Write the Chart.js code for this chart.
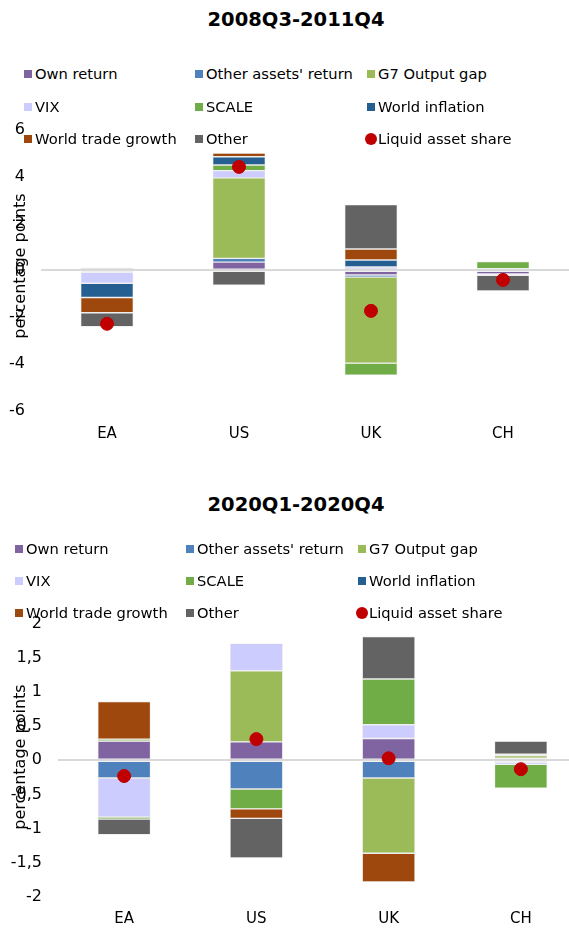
<!DOCTYPE html>
<html>
<head>
<meta charset="utf-8">
<script src="https://cdn.jsdelivr.net/npm/chart.js@4.4.0/dist/chart.umd.min.js"></script>
<style>
  body { margin: 0; width: 569px; height: 929px; overflow: hidden; position: relative; background: #fff;
         font-family: "DejaVu Sans", Verdana, sans-serif; color: #000; }
  canvas { position: absolute; left: 0; }
  .title { position: absolute; left: 296px; transform: translateX(-50%); font-weight: bold; font-size: 19.5px; white-space: nowrap; }
  .leg { position: absolute; font-size: 14.7px; line-height: 18px; white-space: nowrap; }
  .mark { position: absolute; width: 8px; height: 8px; }
  .dot { position: absolute; width: 12px; height: 12px; border-radius: 50%; background: #C00000; }
  .ytitle { position: absolute; font-size: 16px; line-height: 18px; white-space: nowrap; transform: translate(-50%, -50%) rotate(-90deg); }
</style>
</head>
<body>
<div class="title" style="top:8px">2008Q3-2011Q4</div>
<div class="title" style="top:493px">2020Q1-2020Q4</div>
<canvas id="chartA" width="569" height="353" style="top:104px"></canvas>
<canvas id="chartB" width="590" height="343" style="top:598px"></canvas>
<div class="ytitle" style="left:20px; top:266px">percentage points</div>
<div class="ytitle" style="left:20px; top:757px">percentage points</div>
<div id="legends"></div>
<script>
// Datos
const categories = ['EA', 'US', 'UK', 'CH'];
const seriesNames = ['Own return', "Other assets' return", 'G7 Output gap', 'VIX', 'SCALE', 'World inflation', 'World trade growth', 'Other'];
const seriesColors = ['#8064A2', '#4F81BD', '#9BBB59', '#CCCCFF', '#70AD47', '#255E91', '#9E480E', '#636363'];
const dotLabel = 'Liquid asset share';

// 2008Q3-2011Q4
const ownReturnA   = [0, 0.35, -0.2, -0.16];
const otherAssetsA = [-0.08, 0.16, -0.09, -0.02];
const outputGapA   = [0.11, 3.43, -3.67, 0.07];
const vixA         = [-0.47, 0.31, 0.14, -0.03];
const scaleA       = [0, 0.24, -0.51, 0.3];
const inflationA   = [-0.61, 0.35, 0.3, 0];
const tradeA       = [-0.65, 0.16, 0.47, 0];
const otherA       = [-0.6, -0.64, 1.89, -0.67];
const liquidA      = [-2.28, 4.41, -1.73, -0.41];
const yTicksA      = [-6, -4, -2, 0, 2, 4, 6];

// 2020Q1-2020Q4
const ownReturnB   = [0.28, 0.27, 0.32, 0.03];
const otherAssetsB = [-0.26, -0.42, -0.26, -0.03];
const outputGapB   = [0.03, 1.04, -1.1, 0.04];
const vixB         = [-0.57, 0.4, 0.2, -0.03];
const scaleB       = [-0.03, -0.29, 0.67, -0.35];
const inflationB   = [0, 0, 0, 0];
const tradeB       = [0.55, -0.14, -0.42, 0.02];
const otherB       = [-0.23, -0.58, 0.62, 0.19];
const liquidB      = [-0.23, 0.31, 0.03, -0.13];
const yTicksB      = [-2, -1.5, -1, -0.5, 0, 0.5, 1, 1.5, 2];

const tickFont = { family: '"DejaVu Sans", Verdana, sans-serif', size: 16 };
const catFont = { family: '"DejaVu Sans", Verdana, sans-serif', size: 15 };

function makeChart(id, series, liquid, ticks, axisWidth, rightPad, xPad) {
    const datasets = series.map((vals, i) => ({
        type: 'bar',
        label: seriesNames[i],
        data: vals.map(v => v === 0 ? null : v),
        backgroundColor: seriesColors[i],
        borderColor: 'rgba(220,220,220,0.75)',
        borderWidth: 0.7,
        borderSkipped: false,
        barPercentage: 0.4,
        categoryPercentage: 1,
        stack: 'bars',
        order: 1
    }));
    datasets.push({
        type: 'line',
        label: dotLabel,
        data: liquid,
        showLine: false,
        pointRadius: 6.5,
        pointBackgroundColor: '#C00000',
        pointBorderColor: '#C00000',
        stack: 'dots',
        order: 0
    });
    return new Chart(document.getElementById(id), {
        type: 'bar',
        data: { labels: categories, datasets: datasets },
        options: {
            responsive: false,
            animation: false,
            layout: { autoPadding: false, padding: { top: 10, right: rightPad, bottom: 0, left: 0 } },
            plugins: { legend: { display: false }, tooltip: { enabled: false } },
            scales: {
                x: {
                    stacked: true,
                    grid: { display: false, drawTicks: false },
                    border: { display: false },
                    ticks: { color: '#000', font: catFont, padding: xPad, maxRotation: 0 }
                },
                y: {
                    stacked: true,
                    min: ticks[0],
                    max: ticks[ticks.length - 1],
                    afterFit: function(scale) { scale.width = axisWidth; },
                    afterBuildTicks: function(scale) { scale.ticks = ticks.map(v => ({ value: v })); },
                    grid: {
                        drawTicks: false,
                        color: ctx => ctx.tick && ctx.tick.value === 0 ? '#d9d9d9' : 'rgba(0,0,0,0)',
                        lineWidth: 2
                    },
                    border: { display: false },
                    ticks: {
                        color: '#000',
                        font: tickFont,
                        padding: 16,
                        callback: v => String(v).replace('.', ',')
                    }
                }
            }
        }
    });
}

makeChart('chartA', [ownReturnA, otherAssetsA, outputGapA, vixA, scaleA, inflationA, tradeA, otherA], liquidA, yTicksA, 41, 0, 14);
makeChart('chartB', [ownReturnB, otherAssetsB, outputGapB, vixB, scaleB, inflationB, tradeB, otherB], liquidB, yTicksB, 58, 3, 13);

// Leyendas en HTML (3 columnas)
function makeLegend(textX, rowY) {
    const box = document.getElementById('legends');
    const names = seriesNames.concat([dotLabel]);
    names.forEach((name, i) => {
        const col = i % 3, row = Math.floor(i / 3);
        const x = textX[col], y = rowY[row];
        const item = document.createElement('div');
        item.className = 'leg';
        item.style.left = x + 'px';
        item.style.top = (y - 9) + 'px';
        item.textContent = name;
        box.appendChild(item);
        const m = document.createElement('div');
        if (i < seriesNames.length) {
            m.className = 'mark';
            m.style.background = seriesColors[i];
            m.style.left = (x - 11) + 'px';
            m.style.top = (y - 4) + 'px';
        } else {
            m.className = 'dot';
            m.style.left = (x - 13) + 'px';
            m.style.top = (y - 6) + 'px';
        }
        box.appendChild(m);
    });
}
makeLegend([35, 206, 378], [74, 107, 139]);
makeLegend([26, 197, 369], [549, 581, 613]);
</script>
</body>
</html>
